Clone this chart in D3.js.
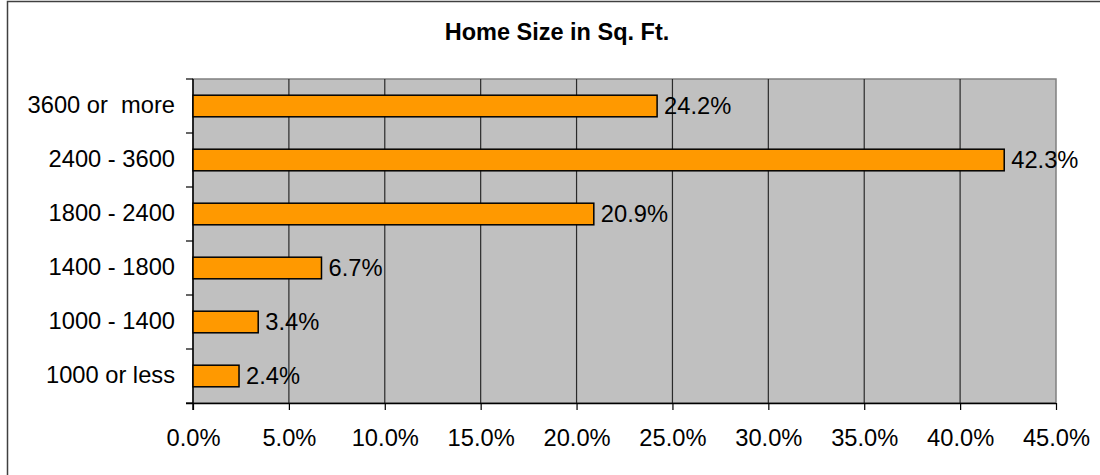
<!DOCTYPE html>
<html>
<head>
<meta charset="utf-8">
<script src="https://cdn.jsdelivr.net/npm/d3@7"></script>
<style>
  html, body { margin: 0; padding: 0; background: #fff; }
  svg { display: block; font-family: "Liberation Sans", Arial, sans-serif; }
</style>
</head>
<body>
<svg id="chart" width="1100" height="475"></svg>
<script>
const categories = ["3600 or  more", "2400 - 3600", "1800 - 2400", "1400 - 1800", "1000 - 1400", "1000 or less"];
const values = [24.2, 42.3, 20.9, 6.7, 3.4, 2.4];
const tickValues = [0, 5, 10, 15, 20, 25, 30, 35, 40, 45];
const title = "Home Size in Sq. Ft.";

const svg = d3.select("#chart");
const W = 1100, H = 475;
const plot = { left: 193, top: 79, right: 1056, bottom: 403 };
const FS = 23.7;

// outer chart border
svg.append("rect")
  .attr("x", 7.5).attr("y", 1.5)
  .attr("width", W + 10).attr("height", H + 10)
  .attr("fill", "#fff").attr("stroke", "#404040").attr("stroke-width", 1.5);

const x = d3.scaleLinear().domain([0, 45]).range([plot.left, plot.right]);
const y = d3.scaleBand().domain(categories).range([plot.top, plot.bottom])
  .paddingInner(0.6).paddingOuter(0.3);

// plot area
svg.append("rect")
  .attr("x", plot.left).attr("y", plot.top)
  .attr("width", plot.right - plot.left).attr("height", plot.bottom - plot.top)
  .attr("fill", "#C0C0C0").attr("stroke", "#808080").attr("stroke-width", 1.5);

// gridlines
svg.append("g").selectAll("line")
  .data(tickValues.filter(t => t > 0 && t < 45))
  .join("line")
  .attr("x1", d => x(d)).attr("x2", d => x(d))
  .attr("y1", plot.top).attr("y2", plot.bottom)
  .attr("stroke", "#2a2a2a").attr("stroke-width", 1.2);

// x axis
const xAxis = d3.axisBottom(x).tickValues(tickValues)
  .tickFormat(d => d.toFixed(1) + "%").tickSize(7).tickPadding(19);
const gx = svg.append("g").attr("transform", `translate(0,${plot.bottom})`).call(xAxis);
gx.select(".domain").attr("stroke", "#000").attr("stroke-width", 1.5).attr("d", `M${plot.left - 7},0.5H${plot.right}`);
gx.selectAll(".tick line").attr("stroke", "#000").attr("stroke-width", 1.2);
gx.selectAll(".tick text").attr("font-size", FS).attr("fill", "#000")
  .attr("font-family", "Liberation Sans, Arial, sans-serif");

// y axis with ticks at band boundaries
const yAxisG = svg.append("g");
yAxisG.append("line")
  .attr("x1", plot.left).attr("x2", plot.left)
  .attr("y1", plot.top).attr("y2", plot.bottom + 7)
  .attr("stroke", "#000").attr("stroke-width", 1.5);
const step = y.step();
yAxisG.selectAll("line.yt")
  .data(d3.range(categories.length + 1))
  .join("line").attr("class", "yt")
  .attr("x1", plot.left - 7).attr("x2", plot.left)
  .attr("y1", i => plot.top + i * step).attr("y2", i => plot.top + i * step)
  .attr("stroke", "#000").attr("stroke-width", 1.2);
yAxisG.selectAll("text")
  .data(categories)
  .join("text")
  .attr("x", 175)
  .attr("y", d => y(d) + y.bandwidth() / 2 + 7)
  .attr("text-anchor", "end")
  .attr("font-size", FS)
  .style("white-space", "pre")
  .attr("fill", "#000")
  .text(d => d);

// bars
const data = categories.map((c, i) => ({ c, v: values[i] }));
svg.append("g").selectAll("rect")
  .data(data)
  .join("rect")
  .attr("x", plot.left)
  .attr("y", d => y(d.c))
  .attr("width", d => x(d.v) - x(0))
  .attr("height", y.bandwidth())
  .attr("fill", "#FF9900").attr("stroke", "#000").attr("stroke-width", 1.5);

// value labels
svg.append("g").selectAll("text")
  .data(data)
  .join("text")
  .attr("x", d => x(d.v) + 7)
  .attr("y", d => y(d.c) + y.bandwidth() / 2 + 8)
  .attr("font-size", FS)
  .attr("fill", "#000")
  .text(d => d.v.toFixed(1) + "%");

// title
svg.append("text")
  .attr("x", 557).attr("y", 40)
  .attr("text-anchor", "middle")
  .attr("font-size", 23.5).attr("font-weight", "bold")
  .attr("fill", "#000")
  .text(title);
</script>
</body>
</html>
